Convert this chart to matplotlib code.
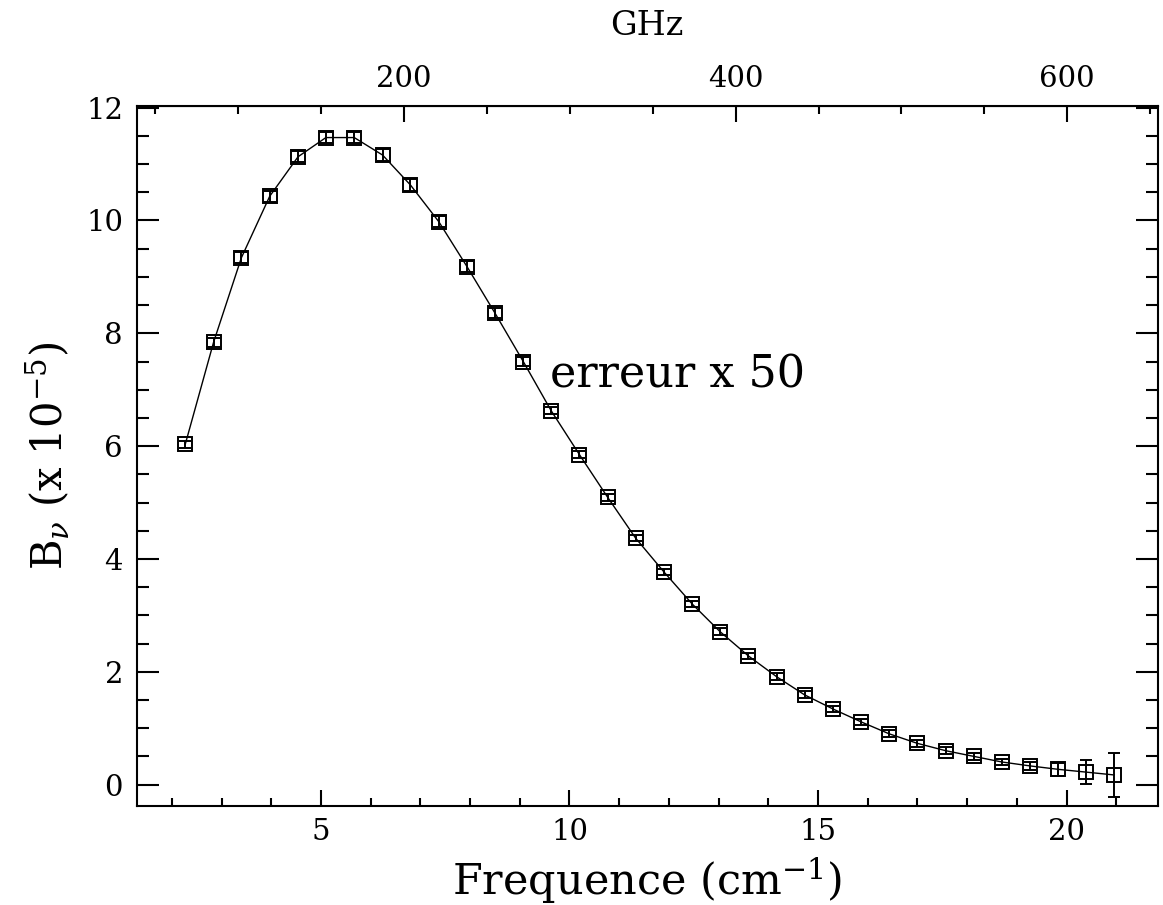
import numpy as np
import matplotlib
matplotlib.use("Agg")
import matplotlib.pyplot as plt
from matplotlib.ticker import MultipleLocator, FixedLocator

# Spectre mesure (erg/s/cm2/sr/cm-1, x 1e-5), barres d'erreur multipliees par 50
freq = [2.27, 2.84, 3.40, 3.97, 4.54, 5.10, 5.67, 6.24, 6.80, 7.37,
        7.94, 8.50, 9.07, 9.63, 10.20, 10.77, 11.33, 11.90, 12.47, 13.03,
        13.60, 14.17, 14.73, 15.30, 15.87, 16.43, 17.00, 17.57, 18.13, 18.70,
        19.27, 19.83, 20.40, 20.96]
bnu = [6.03, 7.84, 9.34, 10.43, 11.13, 11.47, 11.47, 11.16, 10.63, 9.98,
       9.18, 8.36, 7.50, 6.63, 5.85, 5.09, 4.37, 3.77, 3.20, 2.71,
       2.28, 1.91, 1.59, 1.34, 1.11, 0.90, 0.73, 0.60, 0.50, 0.40,
       0.33, 0.27, 0.22, 0.17]
err50 = [0.06, 0.08, 0.10, 0.10, 0.10, 0.10, 0.10, 0.10, 0.10, 0.10,
         0.10, 0.08, 0.08, 0.06, 0.06, 0.06, 0.06, 0.06, 0.06, 0.06,
         0.06, 0.06, 0.06, 0.06, 0.06, 0.06, 0.06, 0.06, 0.06, 0.06,
         0.07, 0.12, 0.21, 0.39]
ghz_ticks = [200, 400, 600]
ghz_minor = [50, 100, 150, 250, 300, 350, 450, 500, 550, 650]

C_GHZ = 29.9792458  # GHz par cm-1

plt.rcParams['font.family'] = ['DejaVu Serif']
plt.rcParams['mathtext.fontset'] = 'dejavuserif'

fig = plt.figure(figsize=(11.63, 9.05), dpi=100)
ax = fig.add_axes([0.1178, 0.1094, 0.8775, 0.7735])

ax.plot(freq, bnu, color='k', lw=1.0)
ax.errorbar(freq, bnu, yerr=err50, fmt='s', mfc='none', mec='k', ms=9.6,
            mew=1.4, ecolor='k', elinewidth=1.4, capsize=4, capthick=1.4)

ax.set_xlim(1.30, 21.83)
ax.set_ylim(-0.38, 12.03)

ax.xaxis.set_major_locator(MultipleLocator(5))
ax.xaxis.set_minor_locator(MultipleLocator(1))
ax.yaxis.set_major_locator(MultipleLocator(2))
ax.yaxis.set_minor_locator(MultipleLocator(0.5))

for s in ax.spines.values():
    s.set_linewidth(1.5)

ax.tick_params(axis='x', which='major', direction='in', length=11.5, width=1.5,
               labelsize=21, pad=9, top=False)
ax.tick_params(axis='x', which='minor', direction='in', length=5.8, width=1.5, top=False)
ax.tick_params(axis='y', which='major', direction='in', length=16, width=1.5,
               labelsize=21, pad=10, right=True)
ax.tick_params(axis='y', which='minor', direction='in', length=8.6, width=1.5, right=True)

# axe du haut en GHz
top = ax.secondary_xaxis('top', functions=(lambda x: x * C_GHZ, lambda g: g / C_GHZ))
top.xaxis.set_major_locator(FixedLocator(ghz_ticks))
top.xaxis.set_minor_locator(FixedLocator(ghz_minor))
top.tick_params(which='major', direction='in', length=11.5, width=1.5, labelsize=21, pad=9)
top.tick_params(which='minor', direction='in', length=5.8, width=1.5)
top.set_xlabel('GHz', fontsize=24, labelpad=22)

ax.set_xlabel('Frequence (cm$^{-1}$)', fontsize=31, labelpad=6)
ax.set_ylabel(r'B$_\nu$ (x 10$^{-5}$)', fontsize=30, labelpad=10)

ax.text(9.6, 7.26, 'erreur x 50', fontsize=32, va='center', ha='left')

fig.savefig('out.png', dpi=100)
